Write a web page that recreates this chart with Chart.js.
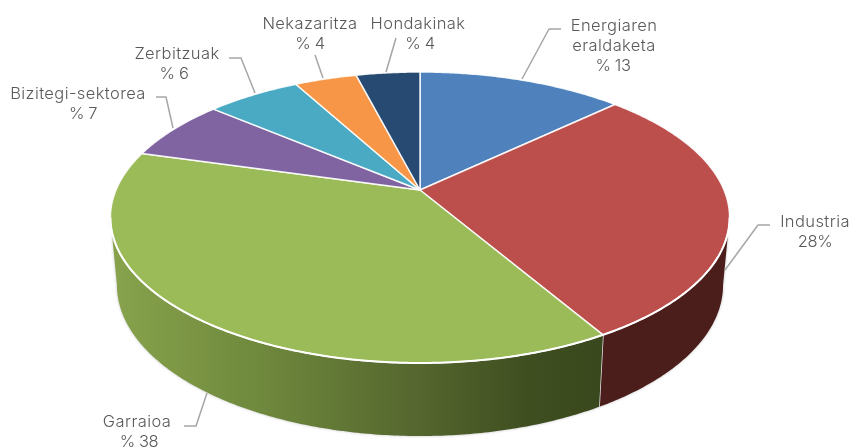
<!DOCTYPE html>
<html>
<head>
<meta charset="utf-8">
<style>
    html, body { margin: 0; padding: 0; background: #fff; }
    canvas { display: block; }
</style>
<script src="https://cdn.jsdelivr.net/npm/chart.js@4"></script>
</head>
<body>
<canvas id="pie" width="853" height="448"></canvas>
<script>
// values (slice shares, the printed labels are rounded)
const categories = ['Energiaren eraldaketa', 'Industria', 'Garraioa', 'Bizitegi-sektorea', 'Zerbitzuak', 'Nekazaritza', 'Hondakinak'];
const shares = [12.9, 28.7, 37.8, 6.8, 5.9, 3.9, 4.0];
const topColors = ['#4f81bd', '#bc4e4b', '#9bbb59', '#8064a2', '#4aa9c3', '#f79646', '#264a72'];
const sideColors = ['#2a4466', '#4c1e1b', null, '#44355a', '#27596a', '#84501f', '#14273e'];
const nameLines = [
    ['Energiaren', 'eraldaketa'],
    ['Industria'],
    ['Garraioa'],
    ['Bizitegi-sektorea'],
    ['Zerbitzuak'],
    ['Nekazaritza'],
    ['Hondakinak'],
];
const valueLabels = ['% 13', '28%', '% 38', '% 7', '% 6', '% 4', '% 4'];

// label placement: centre x, first baseline y, centre x of the value, leader line
const labelLayout = [
    { x: 614, y: 31, valueX: 613, leader: [[561, 29], [549, 29], [522, 79]] },
    { x: 815, y: 227, valueX: 815, leader: [[770, 225], [758, 225], [725, 270]] },
    { x: 137, y: 427, valueX: 139, leader: [[184, 426], [196, 426], [207, 393]] },
    { x: 78, y: 99, valueX: 83, leader: [[156, 97], [166, 97], [173, 128]] },
    { x: 177, y: 59, valueX: 174, leader: [[229, 58], [241, 58], [255, 93]] },
    { x: 310, y: 29, valueX: 310, leader: [[315, 55], [323, 78]] },
    { x: 418, y: 29, valueX: 420, leader: [[396, 38], [386, 72]] },
];

// tilted disc with perspective
const topDisc = { x0: 420, y0: 190, ax: 304, ay: 140.3, b: 0.189 };
const lowDisc = { x0: 420, y0: 256.5, ax: 297.6, ay: 145.6, b: 0.189 };

function project(disc, theta) {
    const u = Math.sin(theta);
    const v = -Math.cos(theta);
    const w = 1 - disc.b * v;
    return [disc.x0 + (disc.ax * u) / w, disc.y0 + (disc.ay * v) / w];
}

function traceRim(ctx, disc, from, to, first) {
    const steps = Math.max(2, Math.ceil(Math.abs(to - from) / 0.01));
    for (let i = 0; i <= steps; i++) {
        const p = project(disc, from + ((to - from) * i) / steps);
        if (i === 0 && first) ctx.moveTo(p[0], p[1]);
        else ctx.lineTo(p[0], p[1]);
    }
}

const pieProjection = {
    id: 'pieProjection',
    beforeDatasetDraw(chart) {
        const ctx = chart.ctx;
        const arcs = chart.getDatasetMeta(0).data;
        // the wall is seen between the two widest points of the ellipse
        const sideFrom = Math.PI - Math.acos(topDisc.b);
        const sideTo = Math.PI + Math.acos(topDisc.b);

        const greenSide = ctx.createLinearGradient(112, 0, 598, 0);
        greenSide.addColorStop(0, '#88a34c');
        greenSide.addColorStop(0.3, '#6f893d');
        greenSide.addColorStop(0.63, '#55662e');
        greenSide.addColorStop(0.85, '#3f4f20');
        greenSide.addColorStop(1, '#3a481d');

        // wall of the disc
        arcs.forEach((arc, i) => {
            const from = Math.max(arc.startAngle + Math.PI / 2, sideFrom);
            const to = Math.min(arc.endAngle + Math.PI / 2, sideTo);
            if (to <= from) return;
            ctx.save();
            ctx.beginPath();
            traceRim(ctx, topDisc, from, to, true);
            traceRim(ctx, lowDisc, to, from, false);
            ctx.closePath();
            ctx.shadowColor = 'rgba(0, 0, 0, 0.25)';
            ctx.shadowBlur = 3;
            ctx.fillStyle = sideColors[i] || greenSide;
            ctx.fill();
            ctx.restore();

            // seam between two walls
            if (arc.endAngle + Math.PI / 2 < sideTo) {
                const a = project(topDisc, to);
                const b = project(lowDisc, to);
                ctx.beginPath();
                ctx.moveTo(a[0], a[1]);
                ctx.lineTo(b[0], b[1]);
                ctx.strokeStyle = '#fff';
                ctx.lineWidth = 1.5;
                ctx.stroke();
            }
        });

        // top face
        arcs.forEach((arc, i) => {
            ctx.beginPath();
            ctx.moveTo(topDisc.x0, topDisc.y0);
            traceRim(ctx, topDisc, arc.startAngle + Math.PI / 2, arc.endAngle + Math.PI / 2, false);
            ctx.closePath();
            ctx.fillStyle = topColors[i];
            ctx.fill();
            ctx.strokeStyle = 'rgba(255, 255, 255, 0.9)';
            ctx.lineWidth = 1.5;
            ctx.lineJoin = 'round';
            ctx.stroke();
        });

        // brighter edge along the front of the top face
        ctx.beginPath();
        traceRim(ctx, topDisc, sideFrom, sideTo, true);
        ctx.strokeStyle = '#fff';
        ctx.lineWidth = 2;
        ctx.stroke();
        return false;
    },
    afterDraw(chart) {
        const ctx = chart.ctx;
        ctx.save();
        labelLayout.forEach((item, i) => {
            ctx.beginPath();
            item.leader.forEach((p, j) => (j ? ctx.lineTo(p[0], p[1]) : ctx.moveTo(p[0], p[1])));
            ctx.strokeStyle = '#a6a6a6';
            ctx.lineWidth = 1.5;
            ctx.stroke();

            ctx.font = '300 16.5px Inter, "Open Sans", sans-serif';
            ctx.fillStyle = '#595959';
            ctx.textAlign = 'center';
            ctx.textBaseline = 'alphabetic';
            ctx.letterSpacing = '0.4px';
            nameLines[i].forEach((line, j) => ctx.fillText(line, item.x, item.y + j * 20));
            ctx.letterSpacing = '-0.4px';
            ctx.fillText(valueLabels[i], item.valueX, item.y + nameLines[i].length * 20);
        });
        ctx.restore();
    },
};

document.addEventListener('DOMContentLoaded', () => {
    const ctx = document.getElementById('pie').getContext('2d');
    new Chart(ctx, {
        type: 'pie',
        data: {
            labels: categories,
            datasets: [{ data: shares, backgroundColor: topColors }],
        },
        options: {
            responsive: false,
            animation: false,
            plugins: {
                legend: { display: false },
                tooltip: { enabled: false },
            },
        },
        plugins: [pieProjection],
    });
});
</script>
</body>
</html>
